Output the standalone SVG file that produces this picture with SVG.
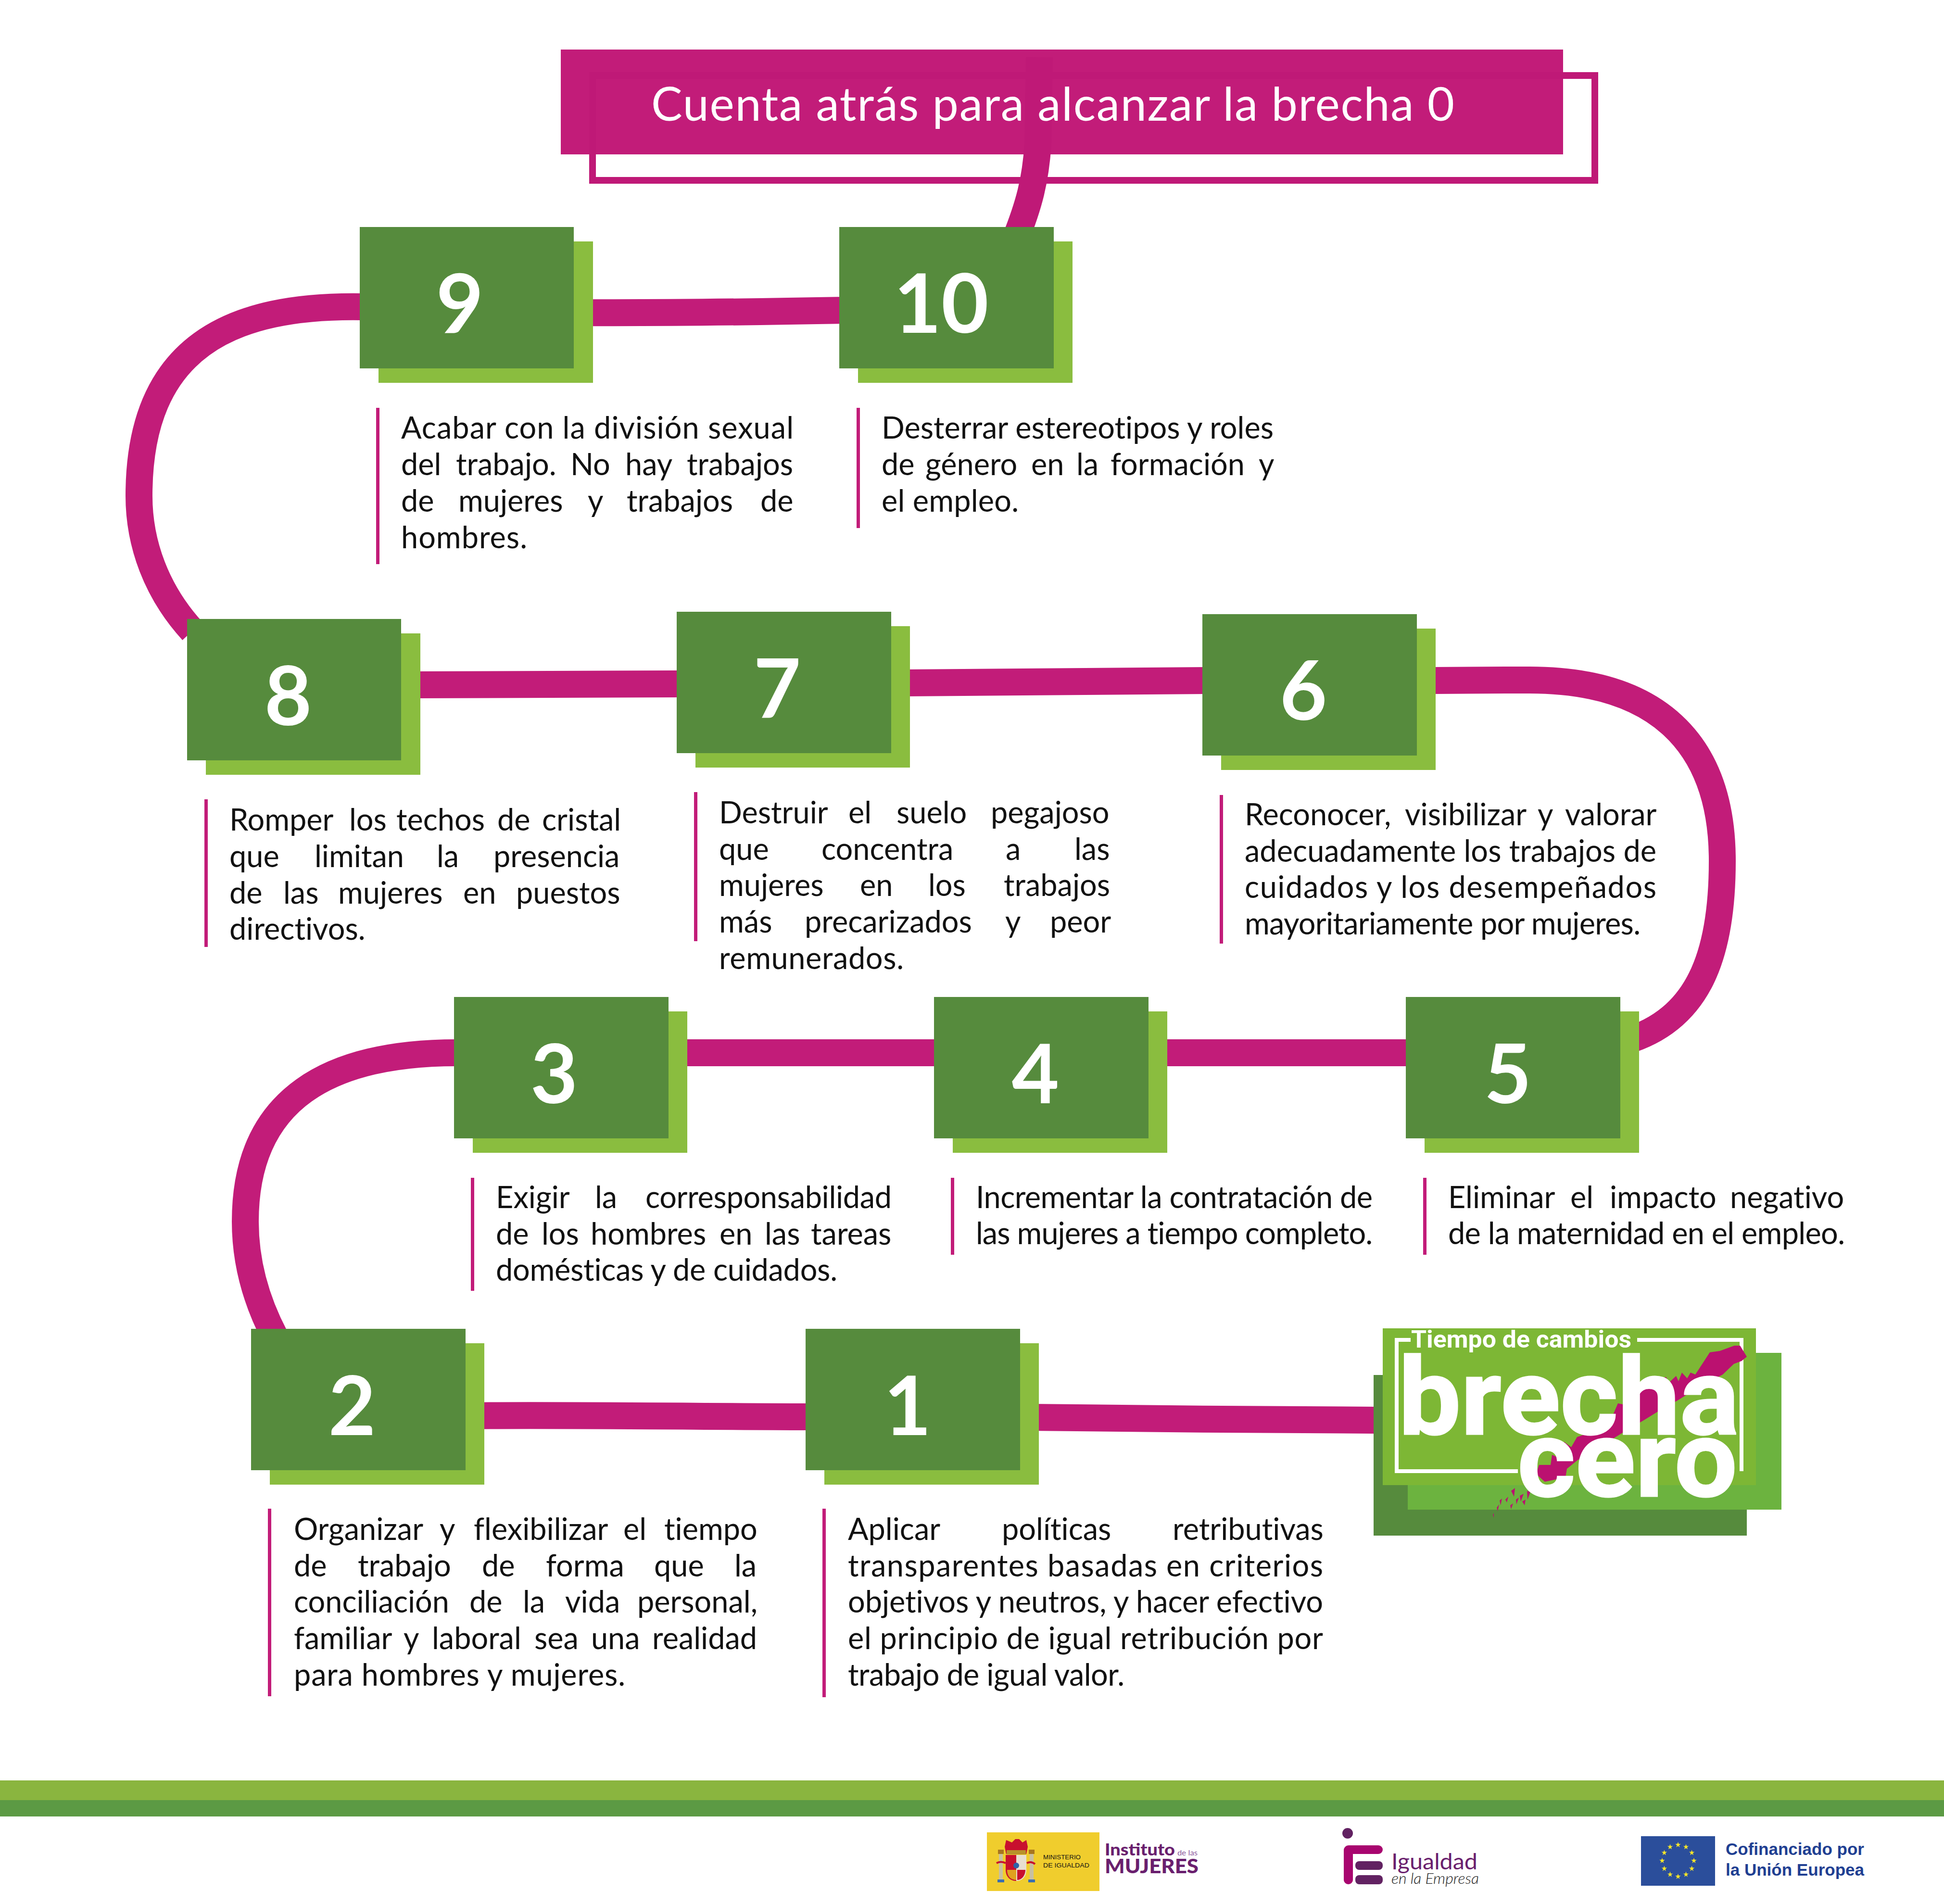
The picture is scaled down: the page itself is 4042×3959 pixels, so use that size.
<svg xmlns="http://www.w3.org/2000/svg" width="4042" height="3959" viewBox="0 0 4042 3959">
<style>
.sh{fill:#8abd3f}
.bx{fill:#568b3d}
.bar{fill:#c21c79}
.n{font:700 170px Lato,"Noto Sans",sans-serif;fill:#fff;text-anchor:middle;font-variant-ligatures:none}
.t{font:400 63px Lato,"Noto Sans",sans-serif;fill:#111;font-variant-ligatures:none}
.con{fill:none;stroke:#c21c79;stroke-width:56}
.lg{font-family:Roboto,"Liberation Sans",sans-serif;font-weight:700;fill:#fff;stroke:#fff;stroke-width:3}
.lgs{font-family:Roboto,"Liberation Sans",sans-serif;font-weight:700;fill:#fff}
.pur{fill:#6a1f6e}
.br{fill:#bb1170}
</style>
<defs>
<polygon id="star" points="0,-6 1.4,-1.9 5.7,-1.9 2.2,.7 3.5,4.9 0,2.3 -3.5,4.9 -2.2,.7 -5.7,-1.9 -1.4,-1.9" fill="#f7e628"/>
</defs>
<rect width="4042" height="3959" fill="#fff"/>
<g id="title">
<rect x="1166" y="103" width="2084" height="218" fill="#c21c79"/>
</g>
<g id="connectors">
<path class="con" style="stroke:#bf1977" d="M2161 119L2158 300C2153 375 2140 425 2110 500"/>
<path class="con" d="M1200 650C1400 651 1600 648 1760 645"/>
<path class="con" d="M760 638C480 632 289 720 289 1031C289 1130 325 1230 400 1312"/>
<path class="con" d="M860 1424L1420 1422"/>
<path class="con" d="M1880 1420L2510 1415"/>
<path class="con" d="M2980 1415C3000 1415 3100 1414 3180 1414C3440 1414 3581 1540 3581 1790C3581 1990 3530 2120 3380 2165"/>
<path class="con" d="M2400 2189H2940"/>
<path class="con" d="M1400 2189H1950"/>
<path class="con" d="M950 2189C690 2189 510 2280 510 2540C510 2620 530 2700 572 2780"/>
<path class="con" d="M980 2944C1100 2942 1300 2944 1680 2946"/>
<path class="con" d="M2140 2947C2400 2949 2600 2953 2860 2953"/>
</g>
<g id="title-frame">
<rect x="1232" y="157" width="2084" height="218" fill="none" stroke="#bf1977" stroke-width="14"/>
<text x="1354" y="251" font-family="Lato,'Noto Sans',sans-serif" font-size="97" fill="#fff" textLength="1670" style="font-variant-ligatures:none">Cuenta atrás para alcanzar la brecha 0</text>
</g>

<g id="node-10">
<rect class="sh" x="1784" y="502" width="446" height="294"/><rect class="bx" x="1745" y="472" width="446" height="294"/>
<text class="n" x="1957" y="692">10</text>
<rect class="bar" x="1781" y="848" width="7" height="250"/>
<text class="t" x="1833" y="912" textLength="815">Desterrar estereotipos y roles</text>
<text class="t" y="988"><tspan x="1833">de</tspan> <tspan x="1924">género</tspan> <tspan x="2144">en</tspan> <tspan x="2238">la</tspan> <tspan x="2309">formación</tspan> <tspan x="2617">y</tspan></text>
<text class="t" x="1833" y="1064" textLength="285">el empleo.</text>
</g>
<g id="node-9">
<rect class="sh" x="787" y="502" width="446" height="294"/><rect class="bx" x="748" y="472" width="445" height="294"/>
<text class="n" x="956" y="692">9</text>
<rect class="bar" x="782" y="848" width="7" height="325"/>
<text class="t" x="834" y="912" textLength="816">Acabar con la división sexual</text>
<text class="t" y="988"><tspan x="834">del</tspan> <tspan x="948">trabajo.</tspan> <tspan x="1186">No</tspan> <tspan x="1300">hay</tspan> <tspan x="1428">trabajos</tspan></text>
<text class="t" y="1064"><tspan x="834">de</tspan> <tspan x="953">mujeres</tspan> <tspan x="1222">y</tspan> <tspan x="1303">trabajos</tspan> <tspan x="1581">de</tspan></text>
<text class="t" x="834" y="1140" textLength="262">hombres.</text>
</g>
<g id="node-8">
<rect class="sh" x="428" y="1317" width="446" height="294"/><rect class="bx" x="389" y="1287" width="445" height="294"/>
<text class="n" x="599" y="1508">8</text>
<rect class="bar" x="425" y="1662" width="7" height="307"/>
<text class="t" y="1727"><tspan x="477">Romper</tspan> <tspan x="726">los</tspan> <tspan x="824">techos</tspan> <tspan x="1034">de</tspan> <tspan x="1127">cristal</tspan></text>
<text class="t" y="1803"><tspan x="477">que</tspan> <tspan x="654">limitan</tspan> <tspan x="908">la</tspan> <tspan x="1026">presencia</tspan></text>
<text class="t" y="1879"><tspan x="477">de</tspan> <tspan x="589">las</tspan> <tspan x="703">mujeres</tspan> <tspan x="963">en</tspan> <tspan x="1073">puestos</tspan></text>
<text class="t" x="477" y="1954">directivos.</text>
</g>
<g id="node-7">
<rect class="sh" x="1446" y="1302" width="446" height="294"/><rect class="bx" x="1407" y="1272" width="446" height="294"/>
<text class="n" x="1616" y="1492">7</text>
<rect class="bar" x="1443" y="1647" width="7" height="310"/>
<text class="t" y="1712"><tspan x="1495">Destruir</tspan> <tspan x="1764">el</tspan> <tspan x="1864">suelo</tspan> <tspan x="2060">pegajoso</tspan></text>
<text class="t" y="1788"><tspan x="1495">que</tspan> <tspan x="1708">concentra</tspan> <tspan x="2091">a</tspan> <tspan x="2234">las</tspan></text>
<text class="t" y="1863"><tspan x="1495">mujeres</tspan> <tspan x="1788">en</tspan> <tspan x="1930">los</tspan> <tspan x="2087">trabajos</tspan></text>
<text class="t" y="1939"><tspan x="1495">más</tspan> <tspan x="1673">precarizados</tspan> <tspan x="2090">y</tspan> <tspan x="2183">peor</tspan></text>
<text class="t" x="1495" y="2015" textLength="384">remunerados.</text>
</g>
<g id="node-6">
<rect class="sh" x="2539" y="1307" width="446" height="294"/><rect class="bx" x="2500" y="1277" width="446" height="294"/>
<text class="n" x="2710" y="1497">6</text>
<rect class="bar" x="2536" y="1653" width="7" height="309"/>
<text class="t" y="1716"><tspan x="2588">Reconocer,</tspan> <tspan x="2921">visibilizar</tspan> <tspan x="3197">y</tspan> <tspan x="3254">valorar</tspan></text>
<text class="t" x="2588" y="1792" textLength="856">adecuadamente los trabajos de</text>
<text class="t" x="2588" y="1867" textLength="856">cuidados y los desempeñados</text>
<text class="t" x="2588" y="1943" textLength="823">mayoritariamente por mujeres.</text>
</g>
<g id="node-3">
<rect class="sh" x="983" y="2103" width="446" height="294"/><rect class="bx" x="944" y="2073" width="446" height="294"/>
<text class="n" x="1152" y="2294">3</text>
<rect class="bar" x="979" y="2449" width="7" height="235"/>
<text class="t" y="2512"><tspan x="1031">Exigir</tspan> <tspan x="1237">la</tspan> <tspan x="1342" textLength="512">corresponsabilidad</tspan></text>
<text class="t" y="2588"><tspan x="1031">de</tspan> <tspan x="1126">los</tspan> <tspan x="1228">hombres</tspan> <tspan x="1496">en</tspan> <tspan x="1590">las</tspan> <tspan x="1686">tareas</tspan></text>
<text class="t" x="1031" y="2663" textLength="710">domésticas y de cuidados.</text>
</g>
<g id="node-4">
<rect class="sh" x="1981" y="2103" width="446" height="294"/><rect class="bx" x="1942" y="2073" width="446" height="294"/>
<text class="n" x="2153" y="2294">4</text>
<rect class="bar" x="1977" y="2449" width="7" height="160"/>
<text class="t" x="2029" y="2512" textLength="825">Incrementar la contratación de</text>
<text class="t" x="2029" y="2587" textLength="825">las mujeres a tiempo completo.</text>
</g>
<g id="node-5">
<rect class="sh" x="2962" y="2103" width="446" height="294"/><rect class="bx" x="2923" y="2073" width="446" height="294"/>
<text class="n" x="3135" y="2294">5</text>
<rect class="bar" x="2959" y="2449" width="7" height="160"/>
<text class="t" y="2512"><tspan x="3011">Eliminar</tspan> <tspan x="3265">el</tspan> <tspan x="3347">impacto</tspan> <tspan x="3597">negativo</tspan></text>
<text class="t" x="3011" y="2587" textLength="825">de la maternidad en el empleo.</text>
</g>
<g id="node-2">
<rect class="sh" x="561" y="2793" width="446" height="294"/><rect class="bx" x="522" y="2763" width="446" height="294"/>
<text class="n" x="732" y="2984">2</text>
<rect class="bar" x="557" y="3137" width="7" height="390"/>
<text class="t" y="3202"><tspan x="611">Organizar</tspan> <tspan x="914">y</tspan> <tspan x="985">flexibilizar</tspan> <tspan x="1296">el</tspan> <tspan x="1381">tiempo</tspan></text>
<text class="t" y="3278"><tspan x="611">de</tspan> <tspan x="744">trabajo</tspan> <tspan x="1002">de</tspan> <tspan x="1135">forma</tspan> <tspan x="1360">que</tspan> <tspan x="1527">la</tspan></text>
<text class="t" y="3353"><tspan x="611">conciliación</tspan> <tspan x="976">de</tspan> <tspan x="1087">la</tspan> <tspan x="1175">vida</tspan> <tspan x="1325">personal,</tspan></text>
<text class="t" y="3429"><tspan x="611">familiar</tspan> <tspan x="839">y</tspan> <tspan x="898">laboral</tspan> <tspan x="1111">sea</tspan> <tspan x="1229">una</tspan> <tspan x="1356">realidad</tspan></text>
<text class="t" x="611" y="3505" textLength="689">para hombres y mujeres.</text>
</g>
<g id="node-1">
<rect class="sh" x="1714" y="2793" width="446" height="294"/><rect class="bx" x="1675" y="2763" width="446" height="294"/>
<text class="n" x="1887" y="2984">1</text>
<rect class="bar" x="1710" y="3137" width="7" height="392"/>
<text class="t" y="3202"><tspan x="1763">Aplicar</tspan> <tspan x="2083">políticas</tspan> <tspan x="2438">retributivas</tspan></text>
<text class="t" x="1763" y="3278" textLength="988">transparentes basadas en criterios</text>
<text class="t" x="1763" y="3353" textLength="988">objetivos y neutros, y hacer efectivo</text>
<text class="t" x="1763" y="3429" textLength="988">el principio de igual retribución por</text>
<text class="t" x="1763" y="3505" textLength="575">trabajo de igual valor.</text>
</g>

<g id="logo-brecha-cero">
<rect x="2856" y="2859" width="776" height="334" fill="#568b3d"/>
<rect x="2927" y="2813" width="777" height="326" fill="#6cb33f"/>
<rect x="2875" y="2762" width="776" height="326" fill="#7db735"/>
<path d="M2933 2786H2904V3059H3156M3404 2786H3621V3059" fill="none" stroke="#fff" stroke-width="8"/>
<polygon class="br" points="3194,3065 3200,3046 3224,3046 3227,3025 3245,3033 3252,2998 3267,3009 3279,2988 3291,2984 3345,2970 3355,2939 3364,2918 3379,2921 3406,2896 3464,2863 3470,2875 3485,2861 3490,2872 3497,2854 3508,2866 3515,2854 3525,2858 3542,2832 3555,2812 3576,2809 3606,2798 3618,2798 3632,2821 3621,2830 3605,2836 3582,2858 3545,2878 3515,2895 3488,2912 3452,2932 3418,2953 3382,2974 3348,2995 3315,3013 3279,3037 3258,3054 3255,3072 3212,3081"/>
<g class="br">
<polygon points="3142,3100 3150,3094 3148,3112"/>
<polygon points="3160,3110 3168,3106 3162,3122"/>
<polygon points="3175,3100 3182,3102 3176,3118"/>
<polygon points="3118,3120 3123,3116 3120,3130"/>
<polygon points="3140,3130 3146,3126 3142,3138"/>
<polygon points="3112,3135 3117,3128 3114,3142"/>
<polygon points="3165,3122 3172,3118 3170,3130"/>
<polygon points="3152,3118 3158,3114 3153,3128"/>
<polygon points="3130,3118 3136,3112 3133,3124"/>
<polygon points="3104,3150 3106,3146 3106,3156"/>
</g>
<text class="lgs" x="2934" y="2802" font-size="50" textLength="458" lengthAdjust="spacingAndGlyphs">Tiempo de cambios</text>
<text class="lg" x="2908" y="2982" font-size="222" textLength="708" lengthAdjust="spacingAndGlyphs">brecha</text>
<text class="lg" x="3155" y="3111" font-size="222" textLength="457" lengthAdjust="spacingAndGlyphs">cero</text>
</g>

<g id="footer">
<rect x="0" y="3702" width="4042" height="41" fill="#8ab53f"/>
<rect x="0" y="3743" width="4042" height="34" fill="#5c9a44"/>
<g id="logo-ministerio">
<rect x="2052" y="3810" width="234" height="122" fill="#f0cd2d"/>
<rect x="2077" y="3854" width="8" height="55" fill="#c8c0a0"/>
<rect x="2141" y="3854" width="8" height="55" fill="#c8c0a0"/>
<rect x="2075" y="3846" width="12" height="9" fill="#a8761e"/>
<rect x="2139" y="3846" width="12" height="9" fill="#a8761e"/>
<rect x="2074" y="3908" width="14" height="6" fill="#3a6fb0"/>
<rect x="2138" y="3908" width="14" height="6" fill="#3a6fb0"/>
<path d="M2092 3826l-3 14 3 15h42l3-15-3-14-8 5-7-7-8 0-7 7z" fill="#c8102e"/>
<rect x="2093" y="3847" width="40" height="9" fill="#b8912a"/>
<path d="M2091 3857h22v54c-12 0-22-8-22-23z" fill="#c8102e"/>
<path d="M2113 3857h21v31c0 15-9 23-21 23z" fill="#e8dfd0"/>
<path d="M2094 3888h19v21c-10 0-19-6-19-21z" fill="#e0a020"/>
<path d="M2115 3888h17c0 11-7 21-17 21z" fill="#c8102e"/>
<circle cx="2113" cy="3879" r="6" fill="#2d62a8"/>
<path d="M2072 3874q9-5 19 0M2135 3874q9-5 17 2" fill="none" stroke="#c8102e" stroke-width="4"/>
<text x="2169" y="3866" font-family="'Liberation Sans',sans-serif" font-size="13" fill="#111" textLength="78" lengthAdjust="spacingAndGlyphs">MINISTERIO</text>
<text x="2169" y="3883" font-family="'Liberation Sans',sans-serif" font-size="13" fill="#111" textLength="96" lengthAdjust="spacingAndGlyphs">DE IGUALDAD</text>
</g>
<g id="logo-instituto">
<text class="pur" x="2297" y="3858" font-family="Lato,sans-serif" font-weight="900" font-size="34" textLength="146" lengthAdjust="spacingAndGlyphs">Instituto</text>
<text x="2448" y="3858" font-family="Lato,sans-serif" font-size="15" fill="#8c5a9c" textLength="42" lengthAdjust="spacingAndGlyphs">de las</text>
<text class="pur" x="2297" y="3895" font-family="Lato,sans-serif" font-weight="900" font-size="41" textLength="195" lengthAdjust="spacingAndGlyphs">MUJERES</text>
</g>
<g id="logo-igualdad">
<ellipse cx="2802" cy="3812" rx="11" ry="11" fill="#622262"/>
<path d="M2804 3837H2866a9 9 0 0 1 0 18H2813V3909a9.500 9 0 0 1-19 0V3847a10 10 0 0 1 10-10z" fill="#a8056f"/>
<rect x="2818" y="3870" width="57" height="18" rx="8" fill="#622262"/>
<rect x="2818" y="3899" width="57" height="19" rx="8" fill="#622262"/>
<text class="pur" x="2893" y="3887" font-family="Lato,sans-serif" font-weight="400" font-size="46" textLength="179" lengthAdjust="spacingAndGlyphs">Igualdad</text>
<text x="2893" y="3917" font-family="Lato,sans-serif" font-weight="300" font-style="italic" font-size="31" fill="#222" textLength="182" lengthAdjust="spacingAndGlyphs">en la Empresa</text>
</g>
<g id="logo-eu">
<rect x="3412" y="3818" width="154" height="103" fill="#2b4e9b"/>
<g transform="translate(3489 3869)">
<use href="#star" x="0" y="-33"/><use href="#star" x="16.5" y="-28.6"/><use href="#star" x="28.6" y="-16.5"/><use href="#star" x="33" y="0"/><use href="#star" x="28.6" y="16.5"/><use href="#star" x="16.5" y="28.6"/><use href="#star" x="0" y="33"/><use href="#star" x="-16.5" y="28.6"/><use href="#star" x="-28.6" y="16.5"/><use href="#star" x="-33" y="0"/><use href="#star" x="-28.6" y="-16.5"/><use href="#star" x="-16.5" y="-28.6"/>
</g>
<text x="3588" y="3857" font-family="'Liberation Sans',sans-serif" font-weight="700" font-size="35" fill="#1f3f92" textLength="288" lengthAdjust="spacingAndGlyphs">Cofinanciado por</text>
<text x="3588" y="3900" font-family="'Liberation Sans',sans-serif" font-weight="700" font-size="35" fill="#1f3f92" textLength="288" lengthAdjust="spacingAndGlyphs">la Unión Europea</text>
</g>
</g>
</svg>
